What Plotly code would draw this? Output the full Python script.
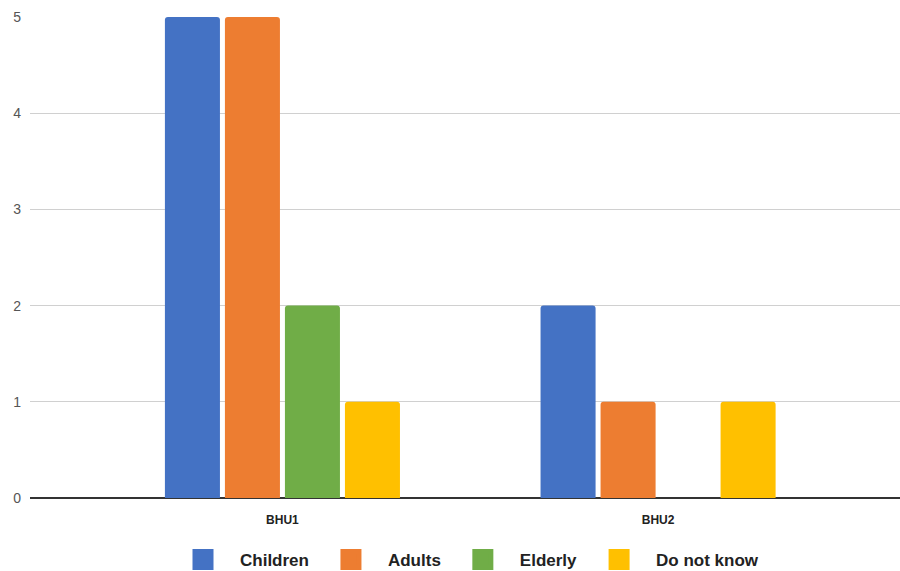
import plotly.graph_objects as go

# Counts per health unit, grouped by age group
units = ["BHU1", "BHU2"]
groups = ["Children", "Adults", "Elderly", "Do not know"]
children = [5, 2]
adults = [5, 1]
elderly = [2, 0]
do_not_know = [1, 1]
y_ticks = [0, 1, 2, 3, 4, 5]

series = [children, adults, elderly, do_not_know]
colors = ["#4472C4", "#ED7D31", "#70AD47", "#FFC000"]

fig = go.Figure()
for name, vals, col in zip(groups, series, colors):
    fig.add_trace(go.Bar(x=units, y=vals, name=name, marker_color=col,
                         marker_line_width=0, showlegend=False,
                         legendgroup=name))

# Legend keys drawn as large squares
for name, col in zip(groups, colors):
    fig.add_trace(go.Scatter(x=[None], y=[None], mode="markers", name=name,
                             legendgroup=name,
                             marker=dict(symbol="square", size=16, color=col,
                                         line=dict(width=5, color=col))))

fig.update_layout(
    width=900, height=571,
    margin=dict(l=30, r=0, t=17, b=73, autoexpand=False),
    plot_bgcolor="white", paper_bgcolor="white",
    barmode="group", bargap=0.361, bargroupgap=0.083,
    barcornerradius=3,
    font=dict(family="Liberation Sans, Arial, sans-serif", color="#333"),
    xaxis=dict(type="category", range=[-0.672, 1.644], showgrid=False,
               tickfont=dict(size=12, color="#222",
                             family="Liberation Sans, Arial, sans-serif",
                             weight="bold"),
               ticklabelstandoff=13, showline=False, ticks=""),
    yaxis=dict(range=[0, 5], tickvals=y_ticks, showgrid=True,
               gridcolor="#d0d0d0", gridwidth=1,
               zeroline=True, zerolinecolor="#333", zerolinewidth=1.5,
               tickfont=dict(size=14, color="#555"), ticklabelstandoff=8),
    legend=dict(orientation="h", x=0.5, xanchor="center", y=-0.129,
                yanchor="middle",
                font=dict(size=17, color="#222", weight="bold"),
                itemwidth=64, itemsizing="trace"),
    showlegend=True,
)

fig.write_html("out.html")
